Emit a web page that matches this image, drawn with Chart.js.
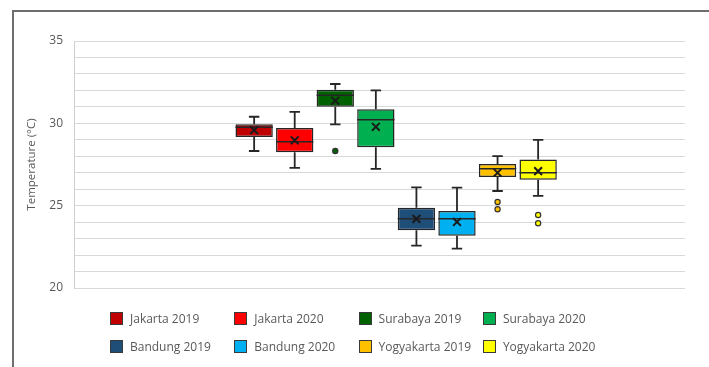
<!DOCTYPE html>
<html>
<head>
<meta charset="utf-8">
<script src="https://cdn.jsdelivr.net/npm/chart.js@4.4.1/dist/chart.umd.min.js"></script>
<style>
  html, body { margin: 0; padding: 0; background: #ffffff; }
  #wrap { position: relative; width: 709px; height: 367px; overflow: hidden; background: #fff; }
  #frame { position: absolute; left: 12px; top: 10px; width: 720px; height: 400px;
           border-left: 2px solid #6e6e6e; border-top: 2px solid #6e6e6e; box-sizing: border-box; }
  #c { position: absolute; left: 0; top: 0; }
  #legend { position: absolute; left: 110px; top: 304px; display: grid;
            grid-template-columns: repeat(4, 124.3px); grid-auto-rows: 28px;
            font-family: 'Open Sans', sans-serif; font-size: 12px; color: #595959; }
  .item { display: flex; align-items: center; white-space: nowrap; }
  .sw { width: 11px; height: 11px; border: 1px solid #3a3a3a; margin-right: 7px; flex: none; }
</style>
</head>
<body>
<div id="wrap">
  <div id="frame"></div>
  <canvas id="c" width="709" height="367"></canvas>
  <div id="legend"></div>
</div>
<script>
// ---- Data ----
const categories = ['Jakarta 2019', 'Jakarta 2020', 'Surabaya 2019', 'Surabaya 2020',
                    'Bandung 2019', 'Bandung 2020', 'Yogyakarta 2019', 'Yogyakarta 2020'];
const q1Values      = [29.17, 28.24, 31.01, 28.54, 23.50, 23.18, 26.74, 26.58];
const q3Values      = [29.94, 29.71, 32.04, 30.85, 24.88, 24.68, 27.53, 27.81];
const medianValues  = [29.76, 28.88, 31.70, 30.22, 24.21, 24.21, 27.24, 27.00];
const meanValues    = [29.59, 28.97, 31.37, 29.79, 24.20, 24.01, 27.00, 27.10];
const whiskerMin    = [28.32, 27.30, 29.94, 27.23, 22.57, 22.39, 25.89, 25.59];
const whiskerMax    = [30.40, 30.69, 32.39, 32.00, 26.11, 26.09, 28.01, 28.99];
const outlierValues = [[], [], [28.32], [], [], [], [25.22, 24.78], [24.43, 23.93]];
const yTickLabels   = [20, 25, 30, 35];
const yAxisTitle    = 'Temperature (°C)';

// ---- Styles ----
const seriesColors = ['#C00000', '#FF0000', '#006100', '#00B050',
                      '#1F4E79', '#00B0F0', '#FFC000', '#FFFF00'];
const edgeColor = '#262626';

Chart.defaults.font.family = "'Open Sans', sans-serif";
Chart.defaults.color = '#595959';

const boxDatasets = categories.map((name, i) => ({
  type: 'bar',
  label: name,
  data: [{ x: i, y: [q1Values[i], q3Values[i]] }],
  backgroundColor: seriesColors[i],
  borderColor: edgeColor,
  borderWidth: 1.5,
  borderSkipped: false,
  grouped: false,
  barPercentage: 0.92,
  categoryPercentage: 1,
  order: 1
}));

const meanDataset = {
  type: 'scatter',
  label: 'mean',
  data: meanValues.map((v, i) => ({ x: i, y: v })),
  pointStyle: 'crossRot',
  pointRadius: 5.5,
  pointBorderWidth: 2,
  pointBorderColor: '#1a1a1a',
  order: -1
};

const outPts = [], outColors = [];
outlierValues.forEach((arr, i) => arr.forEach(v => { outPts.push({ x: i, y: v }); outColors.push(seriesColors[i]); }));
const outlierDataset = {
  type: 'scatter',
  label: 'outliers',
  data: outPts,
  pointStyle: 'circle',
  pointRadius: 2.6,
  pointBorderWidth: 1.2,
  pointBackgroundColor: outColors,
  pointBorderColor: '#333333',
  order: -1
};

const whiskerPlugin = {
  id: 'whiskers',
  afterDatasetDraw(chart, args) {
    const meta = args.meta;
    if (meta.type !== 'bar') return;
    const i = args.index;
    const el = meta.data[0];
    if (!el) return;
    const y = chart.scales.y;
    const ctx = chart.ctx;
    const props = el.getProps(['x', 'width'], true);
    const cx = props.x, w = props.width;
    const half = w / 2, cap = w * 0.14;
    const yq1 = y.getPixelForValue(q1Values[i]);
    const yq3 = y.getPixelForValue(q3Values[i]);
    const ymin = y.getPixelForValue(whiskerMin[i]);
    const ymax = y.getPixelForValue(whiskerMax[i]);
    const ymed = y.getPixelForValue(medianValues[i]);
    ctx.save();
    ctx.strokeStyle = edgeColor;
    ctx.lineWidth = 1.8;
    ctx.beginPath();
    ctx.moveTo(cx, yq3); ctx.lineTo(cx, ymax);
    ctx.moveTo(cx - cap, ymax); ctx.lineTo(cx + cap, ymax);
    ctx.moveTo(cx, yq1); ctx.lineTo(cx, ymin);
    ctx.moveTo(cx - cap, ymin); ctx.lineTo(cx + cap, ymin);
    ctx.stroke();
    ctx.lineWidth = 1.5;
    ctx.beginPath();
    ctx.moveTo(cx - half, ymed); ctx.lineTo(cx + half, ymed);
    ctx.stroke();
    ctx.restore();
  }
};

new Chart(document.getElementById('c'), {
  type: 'bar',
  data: { datasets: [...boxDatasets, meanDataset, outlierDataset] },
  options: {
    responsive: false,
    animation: false,
    events: [],
    layout: { padding: { left: 0, top: 41, right: 24, bottom: 79 } },
    plugins: { legend: { display: false }, tooltip: { enabled: false } },
    scales: {
      x: {
        type: 'linear',
        display: false,
        offset: false,
        min: -4.44,
        max: 10.62,
        ticks: { stepSize: 1, includeBounds: false }
      },
      y: {
        min: 20,
        max: 35,
        afterFit(scale) { scale.width = 74; },
        border: { display: true, color: '#cfcfcf', width: 1 },
        grid: { color: '#d9d9d9', lineWidth: 1, drawTicks: false },
        ticks: {
          stepSize: 1,
          autoSkip: false,
          padding: 11,
          font: { size: 12 },
          color: '#595959',
          callback: v => (yTickLabels.includes(v) ? String(v) : '')
        },
        title: {
          display: true,
          text: yAxisTitle,
          font: { size: 11.5 },
          color: '#595959',
          padding: { top: 25, bottom: 0 }
        }
      }
    }
  },
  plugins: [whiskerPlugin]
});

// ---- Legend (HTML, built from the same arrays) ----
const legend = document.getElementById('legend');
categories.forEach((name, i) => {
  const it = document.createElement('div');
  it.className = 'item';
  const sw = document.createElement('span');
  sw.className = 'sw';
  sw.style.background = seriesColors[i];
  const tx = document.createElement('span');
  tx.textContent = name;
  it.appendChild(sw); it.appendChild(tx);
  legend.appendChild(it);
});
</script>
</body>
</html>
